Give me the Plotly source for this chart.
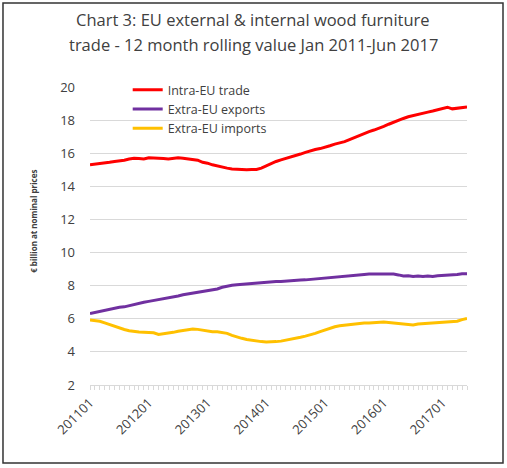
import plotly.graph_objects as go

# months Jan 2011 - Jun 2017, labelled YYYYMM
months = [f"{y}{m:02d}" for y in range(2011, 2018) for m in range(1, 13)][:78]
tick_labels = ["201101", "201201", "201301", "201401", "201501", "201601", "201701"]

intra_eu = [
    15.30, 15.33, 15.38, 15.40, 15.45, 15.50, 15.52, 15.58, 15.65, 15.70, 15.68, 15.65,
    15.72, 15.72, 15.70, 15.68, 15.65, 15.70, 15.72, 15.70, 15.65, 15.62, 15.58, 15.45,
    15.40, 15.30, 15.22, 15.18, 15.10, 15.05, 15.02, 15.00, 15.00, 15.02, 15.02, 15.10,
    15.25, 15.40, 15.50, 15.60, 15.68, 15.75, 15.85, 15.95, 16.05, 16.15, 16.22, 16.28,
    16.35, 16.45, 16.55, 16.62, 16.70, 16.82, 16.95, 17.05, 17.18, 17.30, 17.40, 17.50,
    17.62, 17.75, 17.88, 18.00, 18.10, 18.20, 18.28, 18.32, 18.40, 18.48, 18.55, 18.62,
    18.68, 18.78, 18.68, 18.72, 18.80, 18.80,
]
extra_exports = [
    6.32, 6.38, 6.45, 6.50, 6.58, 6.65, 6.70, 6.72, 6.80, 6.88, 6.95, 7.00,
    7.05, 7.10, 7.15, 7.20, 7.25, 7.32, 7.38, 7.45, 7.50, 7.55, 7.60, 7.68,
    7.72, 7.75, 7.80, 7.90, 7.98, 8.02, 8.05, 8.08, 8.10, 8.12, 8.15, 8.20,
    8.22, 8.24, 8.25, 8.25, 8.28, 8.30, 8.32, 8.34, 8.35, 8.38, 8.40, 8.42,
    8.48, 8.50, 8.52, 8.55, 8.58, 8.60, 8.63, 8.65, 8.68, 8.70, 8.70, 8.72,
    8.72, 8.70, 8.70, 8.65, 8.58, 8.60, 8.55, 8.58, 8.55, 8.58, 8.55, 8.60,
    8.62, 8.60, 8.65, 8.68, 8.72, 8.72,
]
extra_imports = [
    5.92, 5.90, 5.85, 5.75, 5.65, 5.52, 5.42, 5.35, 5.28, 5.22, 5.20, 5.18,
    5.18, 5.15, 5.05, 5.08, 5.12, 5.18, 5.25, 5.30, 5.35, 5.38, 5.36, 5.32,
    5.25, 5.22, 5.22, 5.18, 5.12, 5.00, 4.90, 4.82, 4.75, 4.70, 4.65, 4.62,
    4.60, 4.60, 4.62, 4.65, 4.70, 4.75, 4.82, 4.88, 4.95, 5.02, 5.12, 5.22,
    5.32, 5.45, 5.52, 5.58, 5.62, 5.66, 5.70, 5.72, 5.74, 5.75, 5.78, 5.78,
    5.80, 5.78, 5.75, 5.72, 5.70, 5.68, 5.62, 5.68, 5.70, 5.72, 5.75, 5.78,
    5.80, 5.82, 5.80, 5.85, 5.95, 6.02,
]

title_lines = ["Chart 3: EU external & internal wood furniture",
               "trade - 12 month rolling value Jan 2011-Jun 2017"]

font = "Open Sans"
grey = "#404040"

fig = go.Figure()
fig.add_trace(go.Scatter(x=months, y=intra_eu, name="Intra-EU trade",
                         mode="lines", line=dict(color="#FF0000", width=3)))
fig.add_trace(go.Scatter(x=months, y=extra_exports, name="Extra-EU exports",
                         mode="lines", line=dict(color="#7030A0", width=3)))
fig.add_trace(go.Scatter(x=months, y=extra_imports, name="Extra-EU imports",
                         mode="lines", line=dict(color="#FFC000", width=3)))

fig.update_layout(
    width=507, height=468,
    margin=dict(l=90, r=40, t=87, b=83),
    paper_bgcolor="white", plot_bgcolor="white",
    font=dict(family=font, color=grey, size=13),
    legend=dict(x=0.1, y=1.04, xanchor="left", yanchor="top",
                bgcolor="rgba(0,0,0,0)", font=dict(size=12.5, color=grey),
                tracegroupgap=0, itemwidth=30),
    showlegend=True,
)
fig.update_xaxes(
    type="category", range=[0, len(months) - 1],
    tickmode="array", tickvals=months,
    ticktext=[m if m in tick_labels else "" for m in months],
    tickangle=-45, ticks="outside", ticklen=4, tickcolor="#d9d9d9",
    showgrid=False, showline=True, linecolor="#d9d9d9", linewidth=1,
    tickfont=dict(size=13, color=grey),
)
fig.update_yaxes(
    range=[2, 20], dtick=2, showgrid=True, gridcolor="#d9d9d9",
    zeroline=False, showline=False, ticks="", ticklabelstandoff=14,
    tickfont=dict(size=13, color=grey),
)
# two-line title, placed as annotations for tighter control of line spacing
for i, line in enumerate(title_lines):
    fig.add_annotation(text=line, xref="paper", yref="paper",
                       x=(253 - 90) / 377, y=(385 - (20 + 24 * i)) / 298,
                       xanchor="center", yanchor="middle", showarrow=False,
                       font=dict(size=16.5, color=grey))
fig.add_annotation(text="<b>€ billion at nominal prices</b>", textangle=-90,
                   xref="paper", yref="paper", x=-0.152, y=0.55,
                   xanchor="center", yanchor="middle", showarrow=False,
                   font=dict(size=8, color=grey))
# outer frame around the whole picture
fig.add_shape(type="rect", xref="paper", yref="paper",
              x0=-0.2308, x1=1.0955, y0=-0.2617, y1=1.2819,
              line=dict(color="#333333", width=1.5), layer="above")

fig.write_html("out.html", config={"displayModeBar": False},
               post_script="document.body.style.margin='0';")
